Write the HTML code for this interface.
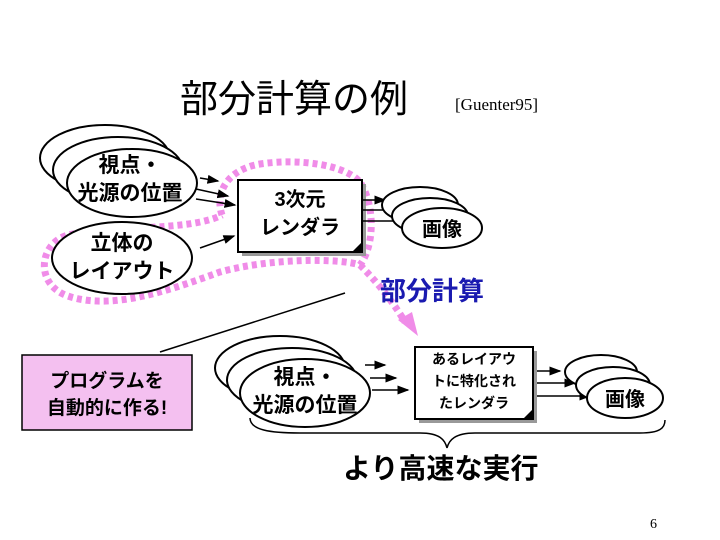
<!DOCTYPE html>
<html><head><meta charset="utf-8"><style>
body{margin:0;background:#fff}
svg{display:block}
text{font-family:"Liberation Sans","Noto Sans CJK JP",sans-serif;font-weight:bold}
</style></head><body>
<svg width="720" height="540" viewBox="0 0 720 540">
<defs><marker id="a" markerWidth="8" markerHeight="8" refX="7" refY="4" orient="auto"><path d="M0,1 L8,4 L0,7z" fill="#000"/></marker></defs>
<text x="180" y="112" font-size="38" style="font-weight:normal">部分計算の例</text>
<text x="455" y="110" font-size="17" style="font-family:'Liberation Serif',serif;font-weight:normal">[Guenter95]</text>
<!-- pink dotted loop -->
<path d="M222,215 C215,195 225,170 260,164 C300,158 345,165 360,182 C375,205 375,245 360,265 C340,258 270,258 220,272 C170,290 110,312 65,295 C35,282 40,245 65,236 C100,225 190,232 222,215" fill="none" stroke="#f08ce8" stroke-width="7" stroke-dasharray="5,4"/>
<path d="M360,265 C375,280 392,300 405,322" fill="none" stroke="#f08ce8" stroke-width="7" stroke-dasharray="5,4"/>
<path d="M398,320 L418,336 L412,312z" fill="#f08ce8"/>
<!-- top ellipses -->
<g fill="#fff" stroke="#000" stroke-width="2">
<ellipse cx="105" cy="158" rx="65" ry="33"/>
<ellipse cx="118" cy="170" rx="65" ry="33"/>
<ellipse cx="132" cy="183" rx="65" ry="34"/>
<ellipse cx="122" cy="258" rx="70" ry="36"/>
</g>
<text x="130" y="172" font-size="21" text-anchor="middle">視点・</text>
<text x="130" y="200" font-size="21" text-anchor="middle">光源の位置</text>
<text x="122" y="250" font-size="21" text-anchor="middle">立体の</text>
<text x="122" y="278" font-size="21" text-anchor="middle">レイアウト</text>
<g stroke="#000" stroke-width="1.5" marker-end="url(#a)">
<line x1="200" y1="178" x2="218" y2="181"/>
<line x1="196" y1="189" x2="228" y2="196"/>
<line x1="196" y1="199" x2="235" y2="205"/>
<line x1="200" y1="248" x2="234" y2="236"/>
</g>
<rect x="242" y="184" width="124" height="72" fill="#999"/>
<rect x="238" y="180" width="124" height="72" fill="#fff" stroke="#000" stroke-width="2"/>
<path d="M352,252 L362,242 L362,252z" fill="#000"/>
<text x="300" y="206" font-size="20" text-anchor="middle">3次元</text>
<text x="300" y="234" font-size="20" text-anchor="middle">レンダラ</text>
<g stroke="#000" stroke-width="1.5" marker-end="url(#a)">
<line x1="363" y1="200" x2="385" y2="200"/>
<line x1="363" y1="210" x2="398" y2="210"/>
<line x1="363" y1="221" x2="410" y2="221"/>
</g>
<g fill="#fff" stroke="#000" stroke-width="2">
<ellipse cx="420" cy="205" rx="38" ry="18"/>
<ellipse cx="430" cy="216" rx="38" ry="18"/>
<ellipse cx="442" cy="228" rx="40" ry="20"/>
</g>
<text x="442" y="236" font-size="20" text-anchor="middle">画像</text>
<text x="380" y="300" font-size="26" fill="#1a1ab0">部分計算</text>
<!-- bottom -->
<line x1="160" y1="352" x2="345" y2="293" stroke="#000" stroke-width="1.5"/>
<rect x="22" y="355" width="170" height="75" fill="#f4c0f0" stroke="#000" stroke-width="1.5"/>
<text x="107" y="387" font-size="19" text-anchor="middle">プログラムを</text>
<text x="107" y="414" font-size="19" text-anchor="middle">自動的に作る!</text>
<g fill="#fff" stroke="#000" stroke-width="2">
<ellipse cx="280" cy="368" rx="65" ry="32"/>
<ellipse cx="292" cy="380" rx="65" ry="32"/>
<ellipse cx="305" cy="393" rx="65" ry="34"/>
</g>
<text x="305" y="384" font-size="21" text-anchor="middle">視点・</text>
<text x="305" y="412" font-size="21" text-anchor="middle">光源の位置</text>
<g stroke="#000" stroke-width="1.5" marker-end="url(#a)">
<line x1="365" y1="365" x2="385" y2="365"/>
<line x1="370" y1="378" x2="396" y2="378"/>
<line x1="372" y1="390" x2="408" y2="390"/>
</g>
<rect x="419" y="351" width="118" height="72" fill="#999"/>
<rect x="415" y="347" width="118" height="72" fill="#fff" stroke="#000" stroke-width="2"/>
<path d="M523,419 L533,409 L533,419z" fill="#000"/>
<text x="474" y="364" font-size="14" text-anchor="middle">あるレイアウ</text>
<text x="474" y="386" font-size="14" text-anchor="middle">トに特化され</text>
<text x="474" y="408" font-size="14" text-anchor="middle">たレンダラ</text>
<g stroke="#000" stroke-width="1.5" marker-end="url(#a)">
<line x1="537" y1="371" x2="560" y2="371"/>
<line x1="537" y1="383" x2="575" y2="383"/>
<line x1="537" y1="396" x2="590" y2="396"/>
</g>
<g fill="#fff" stroke="#000" stroke-width="2">
<ellipse cx="601" cy="372" rx="36" ry="17"/>
<ellipse cx="613" cy="385" rx="37" ry="18"/>
<ellipse cx="625" cy="398" rx="38" ry="20"/>
</g>
<text x="625" y="406" font-size="20" text-anchor="middle">画像</text>
<path d="M250,418 C250,430 270,433 300,433 L420,433 C440,433 445,440 447,448 C449,440 455,433 475,433 L640,433 C660,433 665,428 665,420" fill="none" stroke="#000" stroke-width="1.5"/>
<text x="343" y="478" font-size="28">より高速な実行</text>
<text x="650" y="528" font-size="14" style="font-family:'Liberation Serif',serif;font-weight:normal">6</text>
</svg>
</body></html>
